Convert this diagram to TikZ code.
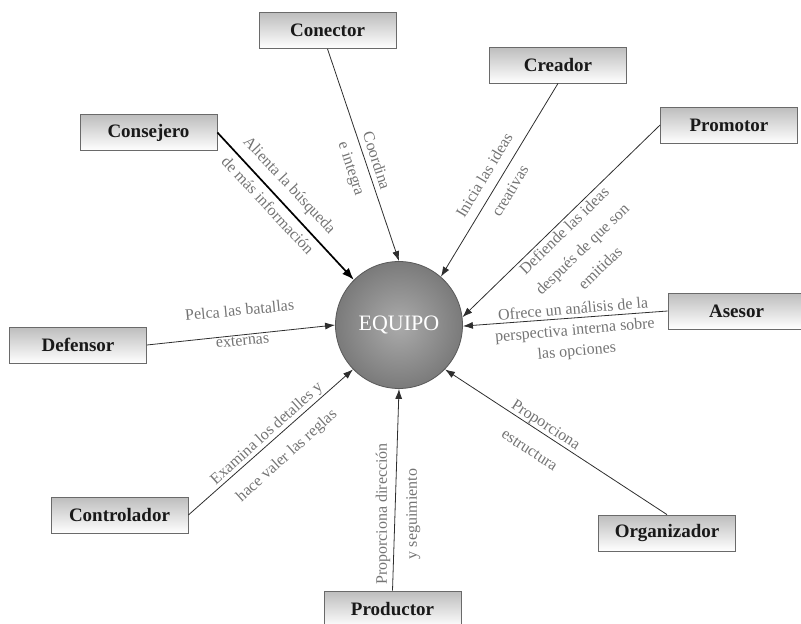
\documentclass[tikz,border=0pt]{standalone}
\usepackage{fontspec}
\setmainfont{Liberation Serif}
\usetikzlibrary{arrows.meta}
\definecolor{boxline}{HTML}{6A6A6A}
\definecolor{boxtop}{HTML}{BDBDBD}
\definecolor{lbl}{HTML}{747474}
\definecolor{wire}{HTML}{2E2E2E}
\tikzset{
  role/.style={draw=boxline, line width=0.8pt, top color=boxtop, middle color=white,
    bottom color=white, minimum width=137pt, minimum height=36pt, inner sep=0pt,
    text=black!90, font=\fontsize{19}{22}\selectfont\bfseries},
  hub/.style={circle, draw=black!65, line width=0.8pt, inner color=black!33,
    outer color=black!52, minimum size=127pt, inner sep=0pt, text=white,
    font=\fontsize{22}{26}\selectfont},
  link/.style={draw=wire, line width=0.8pt, -{Latex[length=10pt,width=7pt]}},
  boldlink/.style={draw=black, line width=1.7pt, -{Latex[length=12pt,width=9pt]}},
  note/.style={text=lbl, align=center, inner sep=0pt},
}
\begin{document}
\begin{tikzpicture}[x=1pt, y=-1pt]
\useasboundingbox (0,0) rectangle (801,624);

% central circle
\node[hub] (eq) at (399,325) {EQUIPO};

% role boxes
\node[role] (conector)    at (327.5,30.5) {Conector};
\node[role] (consejero)   at (148.5,132.5) {Consejero};
\node[role] (creador)     at (558,65) {Creador};
\node[role] (promotor)    at (729,125) {Promotor};
\node[role] (asesor)      at (736.5,311) {Asesor};
\node[role] (defensor)    at (78,345) {Defensor};
\node[role] (controlador) at (119.5,515) {Controlador};
\node[role] (productor)   at (392.5,609) {Productor};
\node[role] (organizador) at (667,533) {Organizador};

% connectors into the circle
\draw[link] (conector.south) -- (eq.90);
\draw[boldlink] (consejero.east) -- (eq.135);
\draw[link] (creador.south) -- (eq.49);
\draw[link] (promotor.west) -- (eq.7);
\draw[link] (asesor.west) -- (eq.-1);
\draw[link] (defensor.east) -- (eq.180);
\draw[link] (controlador.east) -- (eq.224);
\draw[link] (productor.north) -- (eq.270);
\draw[link] (organizador.north) -- (eq.316);

% connector labels
\node[note, rotate=-72, font=\fontsize{16}{26}\selectfont] (tconector) at (363,165) {Coordina\\e integra};
\node[note, rotate=-47, font=\fontsize{16}{30}\selectfont] (tconsejero) at (279,195) {Alienta la búsqueda\\de más información};
\node[note, rotate=59, font=\fontsize{16}{30}\selectfont] (tcreador) at (497,183) {Inicia las ideas\\creativas};
\node[note, rotate=44, font=\fontsize{16}{26}\selectfont] (tpromotor) at (582,249) {Defiende las ideas\\después de que son\\emitidas};
\node[note, rotate=5, font=\fontsize{16}{21}\selectfont] (tasesor) at (575,331) {Ofrece un análisis de la\\perspectiva interna sobre\\las opciones};
\node[note, rotate=5.5, font=\fontsize{16}{30}\selectfont] (tdefensor) at (241,325) {Pelca las batallas\\externas};
\node[note, rotate=42, font=\fontsize{16}{30}\selectfont] (tcontrolador) at (277,445) {Examina los detalles y\\hace valer las reglas};
\node[note, rotate=90, font=\fontsize{16}{30}\selectfont] (tproductor) at (398,514) {Proporciona dirección\\y seguimiento};
\node[note, rotate=-33, font=\fontsize{16}{30}\selectfont] (torganizador) at (538,437) {Proporciona\\estructura};
\end{tikzpicture}
\end{document}
